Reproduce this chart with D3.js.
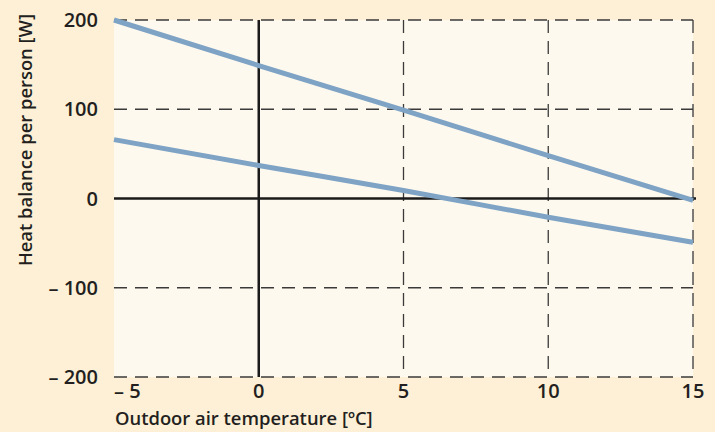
<!DOCTYPE html>
<html>
<head>
<meta charset="utf-8">
<script src="https://cdn.jsdelivr.net/npm/d3@7"></script>
<style>
  html, body { margin: 0; padding: 0; background: #fdf0d6; }
  svg { display: block; }
</style>
</head>
<body>
<div id="chart"></div>
<script>
// data
const temps = [-5, 0, 5, 10, 15];
const upperBalance = [200, 149, 99, 48, -2];
const lowerBalance = [66, 37, 9, -21, -49];
const xTicks = [-5, 0, 5, 10, 15];
const yTicks = [200, 100, 0, -100, -200];

const W = 715, H = 432;
const margin = {top: 20, right: 22, bottom: 55, left: 114};
const width = W - margin.left - margin.right,   // 579
      height = H - margin.top - margin.bottom;  // 357

const svg = d3.select("#chart")
  .append("svg")
    .attr("width", W)
    .attr("height", H);

svg.append("rect")
  .attr("width", W).attr("height", H)
  .attr("fill", "#fdf0d6");

const g = svg.append("g")
  .attr("transform", `translate(${margin.left},${margin.top})`);

const x = d3.scaleLinear().domain([-5, 15]).range([0, width]);
const y = d3.scaleLinear().domain([-200, 200]).range([height, 0]);

// plot background
g.append("rect")
  .attr("x", 0).attr("y", 0)
  .attr("width", width).attr("height", height)
  .attr("fill", "#fef9ee");

const fmt = d => d < 0 ? "\u2013 " + Math.abs(d) : String(d);

// dashed grid
g.selectAll(".hgrid")
  .data(yTicks.filter(d => d !== 0))
  .join("line")
    .attr("x1", 0).attr("x2", x(15))
    .attr("y1", d => y(d)).attr("y2", d => y(d))
    .attr("stroke", "#3a3a3a")
    .attr("stroke-width", 1.3)
    .attr("stroke-dasharray", "13,8");

g.selectAll(".vgrid")
  .data(xTicks.filter(d => d > 0))
  .join("line")
    .attr("x1", d => x(d)).attr("x2", d => x(d))
    .attr("y1", y(200)).attr("y2", y(-200))
    .attr("stroke", "#3a3a3a")
    .attr("stroke-width", 1.3)
    .attr("stroke-dasharray", "13,8");

// solid axes through zero
g.append("line")
  .attr("x1", x(-5)).attr("x2", x(15) + 3)
  .attr("y1", y(0)).attr("y2", y(0))
  .attr("stroke", "#1a1a1a").attr("stroke-width", 2.5);
g.append("line")
  .attr("x1", x(0)).attr("x2", x(0))
  .attr("y1", y(200)).attr("y2", y(-200))
  .attr("stroke", "#1a1a1a").attr("stroke-width", 2.5);

// the two lines
const line = d3.line()
  .x((d, i) => x(temps[i]))
  .y(d => y(d))
  .curve(d3.curveMonotoneX);

[upperBalance, lowerBalance].forEach(s => {
  g.append("path")
    .datum(s)
    .attr("fill", "none")
    .attr("stroke", "#7ea3c5")
    .attr("stroke-width", 5)
    .attr("d", line);
});

const font = "'Open Sans', 'Noto Sans', sans-serif";

// y tick labels
g.selectAll(".ylab")
  .data(yTicks)
  .join("text")
    .attr("x", -16)
    .attr("y", d => y(d) + 7)
    .attr("text-anchor", "end")
    .style("font-family", font)
    .style("font-weight", 600)
    .style("font-size", "20px")
    .attr("fill", "#231f20")
    .text(fmt);

// x tick labels
g.selectAll(".xlab")
  .data(xTicks)
  .join("text")
    .attr("x", d => d === -5 ? x(d) : x(d))
    .attr("y", height + 21)
    .attr("text-anchor", d => d === -5 ? "start" : "middle")
    .style("font-family", font)
    .style("font-weight", 600)
    .style("font-size", "20px")
    .attr("fill", "#231f20")
    .text(fmt);

// x title
svg.append("text")
  .attr("x", margin.left + 1)
  .attr("y", 425)
  .style("font-family", font)
  .style("font-weight", 600)
  .style("font-size", "18.4px")
  .attr("fill", "#231f20")
  .text("Outdoor air temperature [\u00baC]");

// y title
svg.append("text")
  .attr("text-anchor", "middle")
  .attr("transform", "translate(32,140)rotate(-90)")
  .style("font-family", font)
  .style("font-weight", 600)
  .style("font-size", "18.4px")
  .attr("fill", "#231f20")
  .text("Heat balance per person [W]");
</script>
</body>
</html>
